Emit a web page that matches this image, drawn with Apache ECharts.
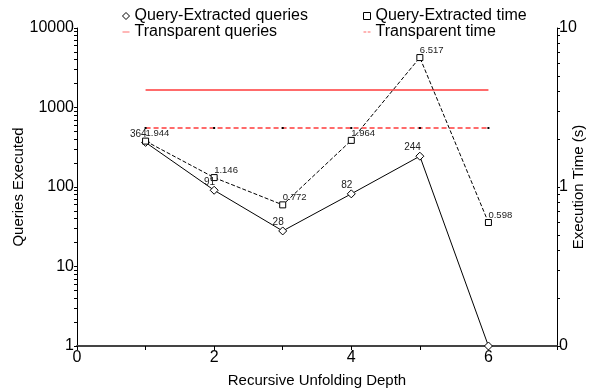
<!DOCTYPE html>
<html>
<head>
<meta charset="utf-8">
<script src="https://cdn.jsdelivr.net/npm/echarts@6/dist/echarts.min.js"></script>
<style>html,body{margin:0;padding:0;background:#fff}#c{width:589px;height:391px}</style>
</head>
<body>
<div id="c"></div>
<script>
const depths = [1, 2, 3, 4, 5, 6];
const qeQueries = [364, 91, 28, 82, 244, 1];
const qeTime = [1.944, 1.146, 0.772, 1.964, 6.517, 0.598];
const transparentQueries = [1660, 1660, 1660, 1660, 1660, 1660];
const transparentTime = [2.35, 2.35, 2.35, 2.35, 2.35, 2.35];
const xTicks = [0, 2, 4, 6];
const leftTicks = [1, 10, 100, 1000, 10000];
const rightTicks = [0.1, 1, 10];

function logTicks(lo, hi) {
  const out = [];
  for (let d = lo; d < hi; d *= 10) {
    for (let k = 1; k < 10; k++) out.push(+(d * k).toPrecision(6));
  }
  out.push(hi);
  return out;
}

const FONT = 'Liberation Sans, Arial, sans-serif';
const pair = arr => depths.map((d, i) => [d, arr[i]]);
const RED = '#ff6b6b';

const chart = echarts.init(document.getElementById('c'));
chart.setOption({
  animation: false,
  backgroundColor: '#fff',
  textStyle: { fontFamily: FONT },
  grid: { left: 77, right: 32, top: 28, bottom: 45, containLabel: false, outerBoundsMode: 'none' },
  legend: [
    {
      left: 117, top: 3, orient: 'vertical', itemGap: 0, itemWidth: 7, itemHeight: 7,
      textStyle: { fontSize: 16, color: '#000', fontFamily: FONT },
      data: [
        { name: 'Query-Extracted queries', icon: 'diamond', itemStyle: { color: '#fff', borderColor: '#000', borderWidth: 1 } },
        { name: 'Transparent queries', icon: 'path://M0,0H10V1.4H0Z', itemStyle: { color: RED, borderWidth: 0 } }
      ]
    },
    {
      left: 358, top: 3, orient: 'vertical', itemGap: 0, itemWidth: 7, itemHeight: 7,
      textStyle: { fontSize: 16, color: '#000', fontFamily: FONT },
      data: [
        { name: 'Query-Extracted time', icon: 'rect', itemStyle: { color: '#fff', borderColor: '#000', borderWidth: 1 } },
        { name: 'Transparent time', icon: 'path://M0,0H4V1.4H0Z M6,0H10V1.4H6Z', itemStyle: { color: RED, borderWidth: 0 } }
      ]
    }
  ],
  xAxis: {
    type: 'value', min: 0, max: 7, interval: 1,
    name: 'Recursive Unfolding Depth', nameLocation: 'middle', nameGap: 27, nameMoveOverlap: false,
    nameTextStyle: { fontSize: 15, color: '#000', fontFamily: FONT },
    axisLine: { onZero: false, lineStyle: { color: '#444', width: 2 } },
    axisTick: { show: true, length: 4, lineStyle: { color: '#000' } },
    axisLabel: {
      color: '#000', fontSize: 16, fontFamily: FONT, margin: 4,
      customValues: xTicks
    },
    splitLine: { show: false }
  },
  yAxis: [
    {
      type: 'log', min: 1, max: 10000, logBase: 10,
      name: 'Queries Executed', nameLocation: 'middle', nameGap: 51, nameRotate: 90, nameMoveOverlap: false,
      nameTextStyle: { fontSize: 15, color: '#000', fontFamily: FONT },
      axisLine: { show: true, lineStyle: { color: '#000', width: 1 } },
      axisTick: { show: true, length: 3, lineStyle: { color: '#000' }, customValues: logTicks(1, 10000) },
      axisLabel: { color: '#000', fontSize: 16, fontFamily: FONT, margin: 3, customValues: leftTicks, formatter: v => String(Math.round(v)) },
      splitLine: { show: false }
    },
    {
      type: 'log', min: 0.1, max: 10, logBase: 10, position: 'right',
      name: 'Execution Time (s)', nameLocation: 'middle', nameGap: 14, nameRotate: 90, nameMoveOverlap: false,
      nameTextStyle: { fontSize: 15, color: '#000', fontFamily: FONT },
      axisLine: { show: true, lineStyle: { color: '#000', width: 1 } },
      axisTick: { show: true, length: 3, lineStyle: { color: '#000' }, customValues: logTicks(0.1, 10) },
      axisLabel: { color: '#000', fontSize: 16, fontFamily: FONT, margin: 2, customValues: rightTicks, formatter: v => String(Math.floor(v)) },
      splitLine: { show: false }
    }
  ],
  series: [
    {
      name: 'Transparent queries', type: 'line', yAxisIndex: 0,
      data: pair(transparentQueries), symbol: 'none',
      lineStyle: { color: RED, width: 2 }, itemStyle: { color: RED }, z: 1
    },
    {
      name: 'Transparent time', type: 'line', yAxisIndex: 1,
      data: pair(transparentTime), symbol: 'rect', symbolSize: 2,
      lineStyle: { color: RED, width: 2, type: [5, 3] },
      itemStyle: { color: '#000', borderWidth: 0 }, z: 1
    },
    {
      name: 'Query-Extracted queries', type: 'line', yAxisIndex: 0,
      data: pair(qeQueries), symbol: 'diamond', symbolSize: 8,
      lineStyle: { color: '#000', width: 1 },
      itemStyle: { color: '#fff', borderColor: '#000', borderWidth: 1 },
      label: {
        show: true, position: 'top', align: 'right', offset: [1, 6], fontSize: 10, color: '#222', fontFamily: FONT,
        formatter: p => (p.value[1] === 1 ? '' : String(p.value[1]))
      }, z: 3
    },
    {
      name: 'Query-Extracted time', type: 'line', yAxisIndex: 1,
      data: pair(qeTime), symbol: 'rect', symbolSize: 6,
      lineStyle: { color: '#000', width: 1, type: [4, 2] },
      itemStyle: { color: '#fff', borderColor: '#000', borderWidth: 1 },
      label: {
        show: true, position: 'top', align: 'left', offset: [0, 6], fontSize: 9.5, color: '#222', fontFamily: FONT,
        formatter: p => p.value[1].toFixed(3)
      }, z: 3
    }
  ]
});
</script>
</body>
</html>
